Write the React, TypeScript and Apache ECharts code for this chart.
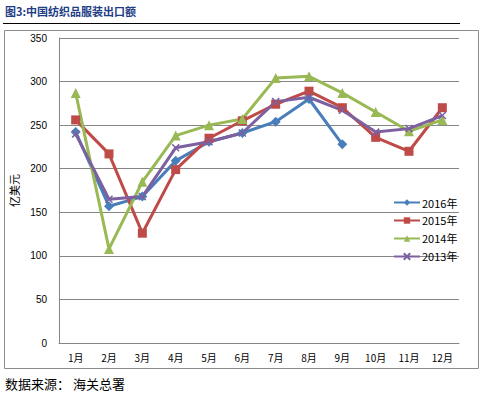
import React, { useEffect, useRef } from "react";
import * as echarts from "echarts";

const months = ["1月", "2月", "3月", "4月", "5月", "6月", "7月", "8月", "9月", "10月", "11月", "12月"];
const s2016 = [242, 157, 168, 209, 231, 241, 254, 280, 228, null, null, null];
const s2015 = [256, 217, 126, 199, 235, 255, 274, 289, 270, 236, 220, 270];
const s2014 = [287, 108, 185, 238, 250, 257, 304, 306, 287, 265, 243, 256];
const s2013 = [240, 165, 168, 224, 231, 241, 277, 282, 267, 242, 246, 261];
const seriesNames = ["2016年", "2015年", "2014年", "2013年"];
const yTicks = { min: 0, max: 350, interval: 50 };

export default function App() {
  const ref = useRef<HTMLDivElement>(null);
  useEffect(() => {
    const chart = echarts.init(ref.current!, null, { renderer: "svg" });
    const colors = ["#4A7EBB", "#BE4B48", "#98B954", "#7D60A0"];
    const symbols = ["diamond", "rect", "triangle", "path://M0,0L10,10M10,0L0,10"];
    const datas = [s2016, s2015, s2014, s2013];
    chart.setOption({
      animation: false,
      backgroundColor: "#fff",
      graphic: [
        {
          type: "text",
          left: 5,
          top: 5,
          style: { text: "图3:中国纺织品服装出口额", font: "bold 11px 'Noto Sans CJK SC'", fill: "#223D85" },
        },
        { type: "line", shape: { x1: 3, y1: 23.5, x2: 460, y2: 23.5 }, style: { stroke: "#000", lineWidth: 1 } },
        { type: "rect", shape: { x: 4.5, y: 30.5, width: 474, height: 338 }, style: { fill: "none", stroke: "#8C8C8C", lineWidth: 1 } },
        {
          type: "text",
          left: 5,
          top: 377,
          style: { text: "数据来源： 海关总署", font: "13px 'Noto Sans CJK SC'", fill: "#000" },
        },
      ],
      grid: { left: 59, right: 24, top: 38, bottom: 55 },
      legend: {
        orient: "vertical",
        left: 388,
        top: 192,
        itemGap: 7,
        itemWidth: 26,
        itemHeight: 8,
        data: seriesNames,
        textStyle: { fontSize: 11, color: "#000", fontFamily: "'Noto Sans CJK SC'", padding: [0, 0, 0, -3] },
      },
      xAxis: {
        type: "category",
        data: months,
        boundaryGap: true,
        axisLine: { lineStyle: { color: "#868686" } },
        axisTick: { show: false },
        axisLabel: { color: "#000", fontSize: 10, margin: 9, fontFamily: "'Noto Sans CJK SC'" },
      },
      yAxis: {
        type: "value",
        min: yTicks.min,
        max: yTicks.max,
        interval: yTicks.interval,
        name: "亿美元",
        nameLocation: "middle",
        nameRotate: 90,
        nameGap: 30,
        nameTextStyle: { color: "#000", fontSize: 11, fontFamily: "'Noto Sans CJK SC'" },
        axisLine: { show: true, lineStyle: { color: "#868686" } },
        axisTick: { show: false },
        axisLabel: { color: "#000", fontSize: 10, margin: 12, fontFamily: "Arial, 'Liberation Sans'" },
        splitLine: { lineStyle: { color: "#868686" } },
      },
      series: datas.map((d, i) => ({
        name: seriesNames[i],
        type: "line",
        data: d,
        color: colors[i],
        symbol: symbols[i],
        symbolSize: i === 3 ? 7 : i === 1 ? 9 : 10,
        showAllSymbol: true,
        lineStyle: { width: 3, color: colors[i] },
        itemStyle: { color: colors[i], borderColor: colors[i], borderWidth: i === 3 ? 1.5 : 0 },
        connectNulls: false,
      })),
    });
    return () => chart.dispose();
  }, []);
  return <div ref={ref} style={{ position: "absolute", left: 0, top: 0, width: 483, height: 398 }} />;
}
